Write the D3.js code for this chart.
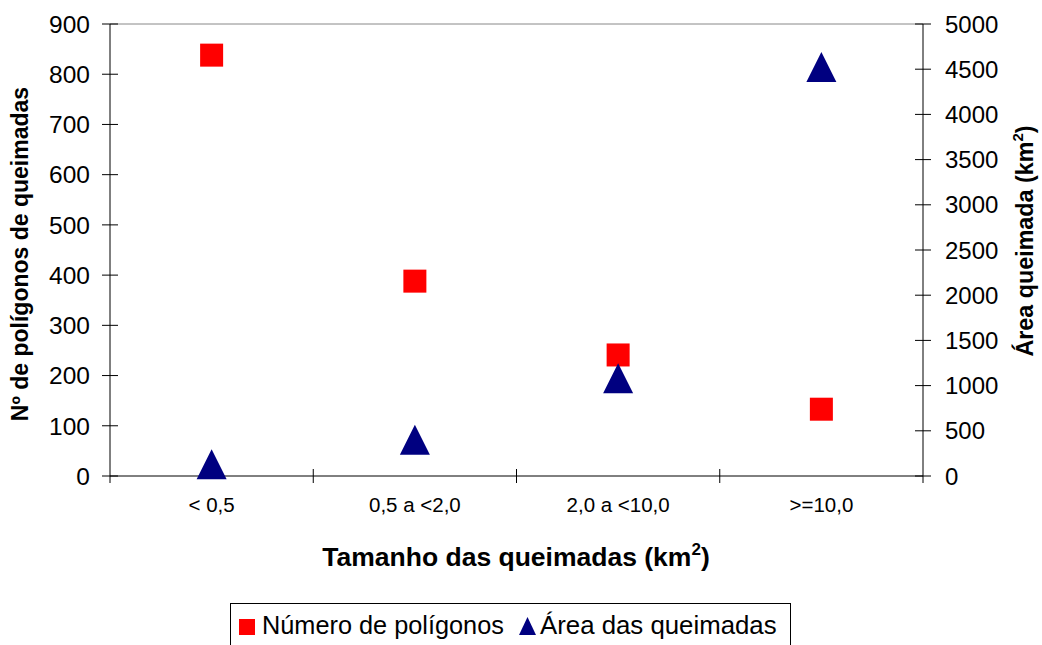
<!DOCTYPE html>
<html><head><meta charset="utf-8">
<script src="https://cdn.jsdelivr.net/npm/d3@7"></script>
<style>body{margin:0;background:#fff}svg{font-family:"Liberation Sans",Arial,sans-serif}</style>
</head><body><svg id="c" width="1042" height="645"></svg>
<script>
const categories = ["< 0,5", "0,5 a <2,0", "2,0 a <10,0", ">=10,0"];
const numeroPoligonos = [838, 388, 241, 133];
const areaQueimadas = [130, 400, 1080, 4525];
const leftTicks = [0,100,200,300,400,500,600,700,800,900];
const rightTicks = [0,500,1000,1500,2000,2500,3000,3500,4000,4500,5000];

const svg = d3.select("#c");
const L = 110, R = 923, T = 24, B = 476;
const x = d3.scaleBand().domain(categories).range([L, R]);
const yL = d3.scaleLinear().domain([0, 900]).range([B, T]);
const yR = d3.scaleLinear().domain([0, 5000]).range([B, T]);

// top border
svg.append("line").attr("x1", L).attr("x2", R).attr("y1", T).attr("y2", T).attr("stroke", "#888").attr("stroke-width", 1);

// left axis
const gl = svg.append("g").attr("transform", `translate(${L},0)`);
gl.append("line").attr("y1", T).attr("y2", B).attr("stroke", "#000");
leftTicks.forEach(v => {
  gl.append("line").attr("x1", -8).attr("x2", 8).attr("y1", yL(v)).attr("y2", yL(v)).attr("stroke", "#000");
  gl.append("text").attr("x", -20).attr("y", yL(v)).attr("dy", "0.36em").attr("text-anchor", "end")
    .attr("font-size", 24.5).text(v);
});
// right axis
const gr = svg.append("g").attr("transform", `translate(${R},0)`);
gr.append("line").attr("y1", T).attr("y2", B).attr("stroke", "#000");
rightTicks.forEach(v => {
  gr.append("line").attr("x1", -8).attr("x2", 8).attr("y1", yR(v)).attr("y2", yR(v)).attr("stroke", "#000");
  gr.append("text").attr("x", 22).attr("y", yR(v)).attr("dy", "0.36em").attr("text-anchor", "start")
    .attr("font-size", 24).text(v);
});
// bottom axis
const gb = svg.append("g");
gb.append("line").attr("x1", L).attr("x2", R).attr("y1", B).attr("y2", B).attr("stroke", "#000");
categories.forEach((c, i) => {
  if (i > 0) gb.append("line").attr("x1", x(c)).attr("x2", x(c)).attr("y1", B - 7).attr("y2", B + 7).attr("stroke", "#000");
  gb.append("text").attr("x", x(c) + x.bandwidth() / 2).attr("y", 512).attr("text-anchor", "middle")
    .attr("font-size", 20.5).text(c);
});
gb.append("line").attr("x1", L).attr("x2", L).attr("y1", B).attr("y2", B + 7).attr("stroke", "#000");
gb.append("line").attr("x1", R).attr("x2", R).attr("y1", B).attr("y2", B + 7).attr("stroke", "#000");

// axis titles
const xt = svg.append("text").attr("x", 516).attr("y", 566).attr("text-anchor", "middle")
  .attr("font-size", 26.5).attr("font-weight", "bold");
xt.append("tspan").text("Tamanho das queimadas (km");
xt.append("tspan").attr("font-size", 17).attr("dy", -11).text("2");
xt.append("tspan").attr("dy", 11).text(")");

svg.append("text").attr("transform", "translate(28,254) rotate(-90)").attr("text-anchor", "middle")
  .attr("font-size", 23).attr("font-weight", "bold").text("Nº de polígonos de queimadas");
const rt = svg.append("text").attr("transform", "translate(1033,241) rotate(-90)").attr("text-anchor", "middle")
  .attr("font-size", 23.3).attr("font-weight", "bold");
rt.append("tspan").text("Área queimada (km");
rt.append("tspan").attr("font-size", 15).attr("dy", -10).text("2");
rt.append("tspan").attr("dy", 10).text(")");

// markers
const cx = c => x(c) + x.bandwidth() / 2;
svg.append("g").selectAll("rect").data(numeroPoligonos).join("rect")
  .attr("x", (d, i) => cx(categories[i]) - 11.5).attr("y", d => yL(d) - 11.5)
  .attr("width", 23).attr("height", 23).attr("fill", "#ff0000");
svg.append("g").selectAll("path").data(areaQueimadas).join("path")
  .attr("d", (d, i) => `M${cx(categories[i])},${yR(d) - 15}L${cx(categories[i]) + 15},${yR(d) + 15}L${cx(categories[i]) - 15},${yR(d) + 15}Z`)
  .attr("fill", "#000080");

// legend
const lg = svg.append("g");
lg.append("rect").attr("x", 230.5).attr("y", 603.5).attr("width", 560).attr("height", 50).attr("fill", "#fff").attr("stroke", "#000");
lg.append("rect").attr("x", 239).attr("y", 619).attr("width", 16).attr("height", 16).attr("fill", "#ff0000");
lg.append("text").attr("x", 262).attr("y", 634).attr("font-size", 25.3).text("Número de polígonos");
lg.append("path").attr("d", "M527.5,617L536,635L519,635Z").attr("fill", "#000080");
lg.append("text").attr("x", 540).attr("y", 634).attr("font-size", 25.8).text("Área das queimadas");
</script></body></html>
